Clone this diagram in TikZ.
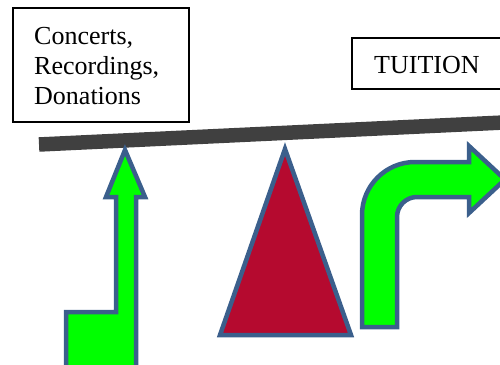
\documentclass[tikz,border=0pt]{standalone}
\usepackage{fontspec}
\setmainfont{Liberation Serif}
\definecolor{outl}{HTML}{3B5F8C}
\definecolor{crim}{HTML}{B50A2F}
\definecolor{beamc}{HTML}{404040}
\definecolor{arrg}{HTML}{00FF00}
\begin{document}
\begin{tikzpicture}[x=1pt,y=-1pt]
\tikzset{
  shapeout/.style={draw=outl, line width=4.5pt, line join=miter},
  grn/.style={shapeout, fill=arrg},
  fulc/.style={shapeout, fill=crim},
  beamline/.style={draw=beamc, line width=14.5pt},
  txt/.style={anchor=base west, inner sep=0pt, font=\fontsize{26}{30}\selectfont},
  box/.style={draw=black, line width=2pt, inner sep=0pt}
}
\useasboundingbox (0,0) rectangle (500,364);
% boxes
\node[box, minimum width=176pt, minimum height=114pt] (b1) at (101,65) {};
\node[txt] (l1) at (34,44) {Concerts,};
\node[txt] (l2) at (34,74) {Recordings,};
\node[txt] (l3) at (34,104) {Donations};
\node[box, minimum width=152pt, minimum height=51pt] (b2) at (428,63.5) {};
\node[txt] (t2) at (374,73) {TUITION};
% fulcrum
\draw[fulc] (285,149) -- (351,335) -- (220,335) -- cycle;
% beam
\draw[beamline] (39,144.5) -- (510,122.2);
% left arrow
\draw[grn] (125,150) -- (145,197) -- (136,197) -- (136,372) -- (66,372) -- (66,312) -- (116,312) -- (116,197) -- (106,197) -- cycle;
% right bent arrow
\draw[grn] (362,327) -- (362,215) arc[start angle=180, end angle=270, radius=53] -- (469,162) -- (469,146) -- (505,179.5) -- (469,213) -- (469,197) -- (417,197) arc[start angle=270, end angle=180, radius=20] -- (397,327) -- cycle;
\end{tikzpicture}
\end{document}
